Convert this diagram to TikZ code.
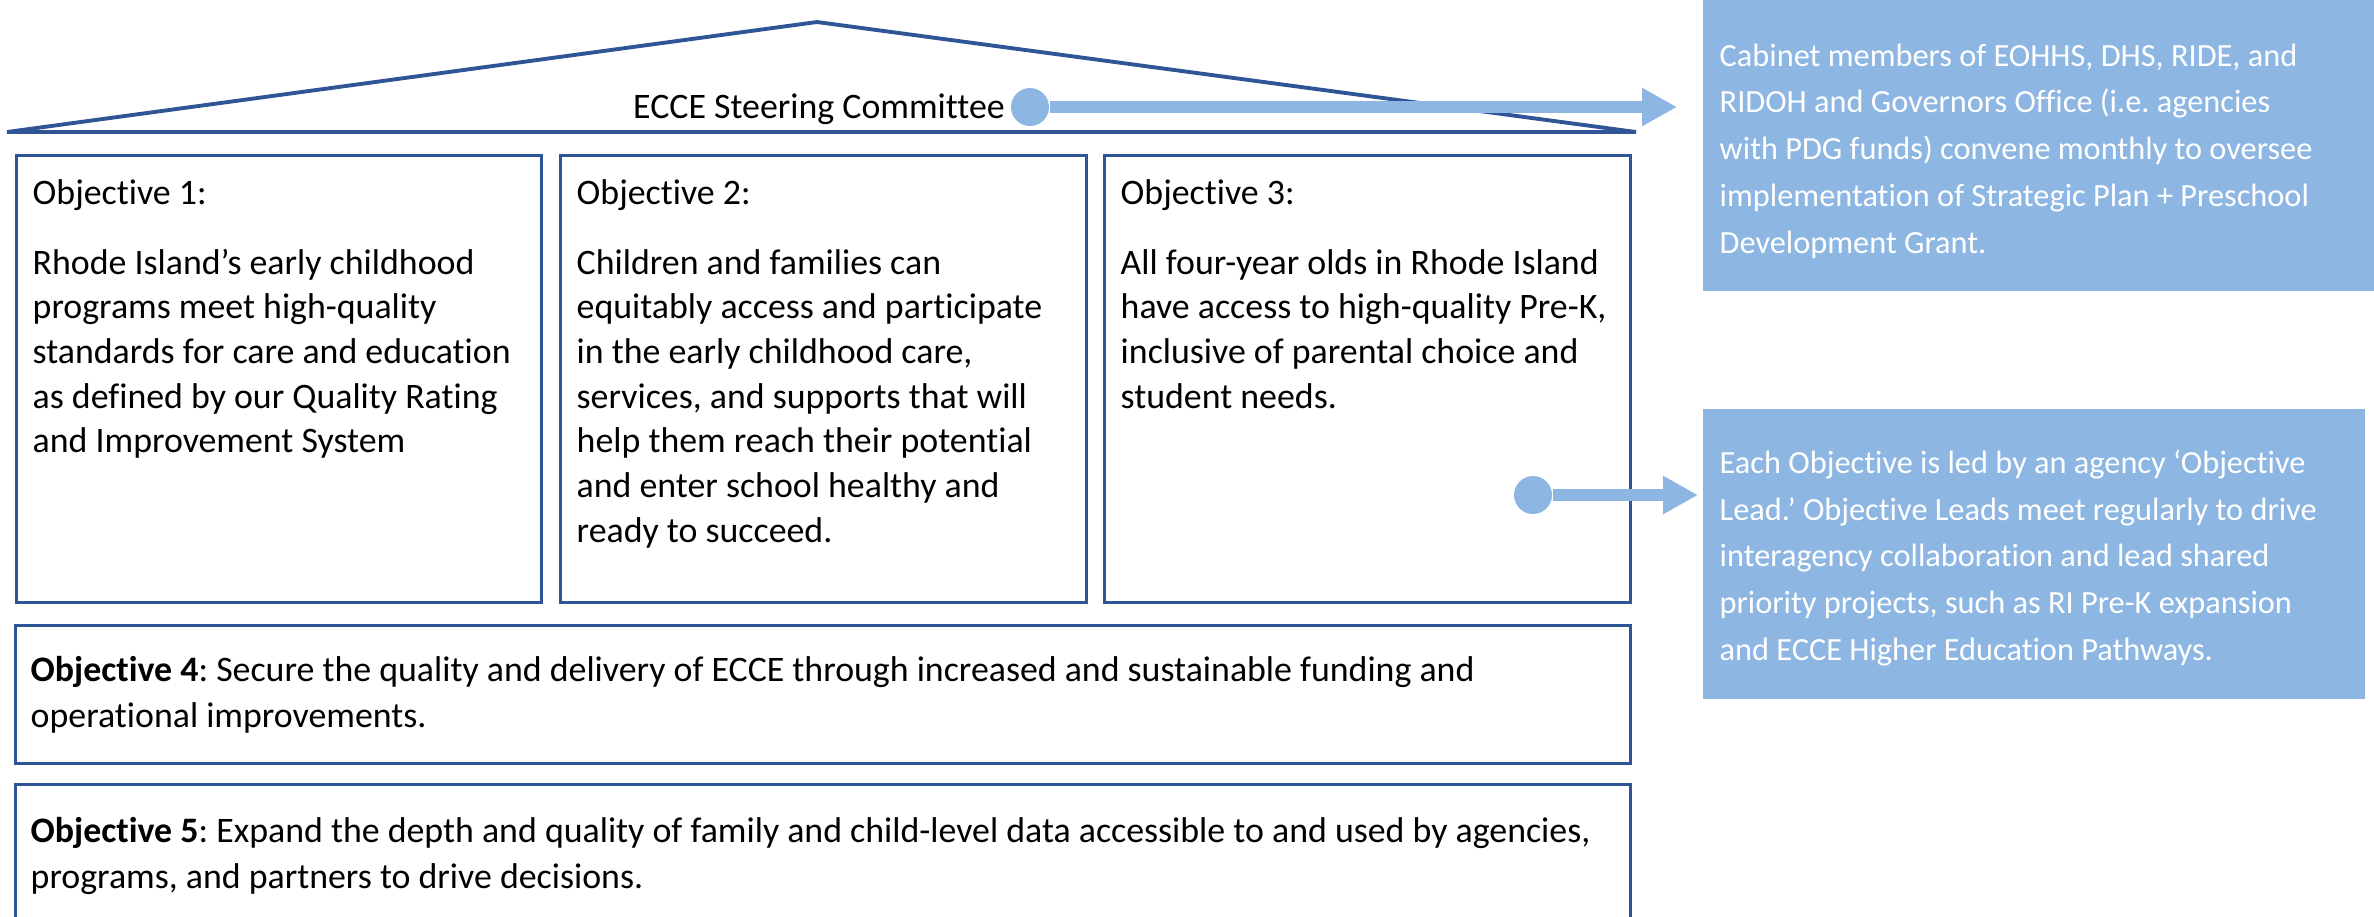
\documentclass[tikz,border=0pt]{standalone}
\usepackage{fontspec}
\setmainfont{Carlito}[Ligatures=NoCommon]
\usepackage{tikz}
\usetikzlibrary{arrows.meta,positioning,calc}
\definecolor{ridkblue}{RGB}{47,85,151}
\definecolor{riltblue}{RGB}{141,183,226}
\frenchspacing
\tikzset{
  objbox/.style={draw=ridkblue,line width=0.9pt,anchor=north west,inner sep=0pt},
  objtext/.style={anchor=north west,inner sep=0pt,align=left,font=\fontsize{10.2}{12.7}\selectfont},
  notebox/.style={fill=riltblue,anchor=north west,inner sep=0pt},
  notetext/.style={text=white,anchor=west,inner sep=0pt,align=left,font=\fontsize{9.2}{13.3}\selectfont},
  leaddot/.style={circle,fill=riltblue,inner sep=0pt,minimum size=3.8mm},
  leadarrow/.style={riltblue,line width=1.2mm,-{Triangle[length=3.5mm,width=3.6mm]}}
}

\begin{document}
\begin{tikzpicture}[x=0.1mm,y=-0.1mm]
    \useasboundingbox (0,0) rectangle (2374,916);
    \clip (0,0) rectangle (2374,916);
    % roof
    \draw[ridkblue,line width=1.1pt] (7,132) -- (817,22) -- (1636,132) -- cycle;
    \node[anchor=base,inner sep=0pt,font=\fontsize{10.2}{12}\selectfont] (steer) at (819,118) {ECCE Steering Committee};
    % objective boxes
    \node[objbox,minimum width=52.5mm,minimum height=44.7mm] (obj1) at (15,154) {};
    \node[objbox,minimum width=52.6mm,minimum height=44.7mm] (obj2) at (559,154) {};
    \node[objbox,minimum width=52.6mm,minimum height=44.7mm] (obj3) at (1103,154) {};
    \node[objbox,minimum width=161.5mm,minimum height=13.8mm] (obj4) at (14,624) {};
    \node[objbox,minimum width=161.5mm,minimum height=16mm] (obj5) at (14,783) {};
    \node[objtext] (obj1txt) at (32,179) {Objective 1:\\[2.5mm]
      Rhode Island’s early childhood\\programs meet high-quality\\standards for care and education\\as defined by our Quality Rating\\and Improvement System};
    \node[objtext] (obj2txt) at (576,179) {Objective 2:\\[2.5mm]
      Children and families can\\equitably access and participate\\in the early childhood care,\\services, and supports that will\\help them reach their potential\\and enter school healthy and\\ready to succeed.};
    \node[objtext] (obj3txt) at (1120,179) {Objective 3:\\[2.5mm]
      All four-year olds in Rhode Island\\have access to high-quality Pre-K,\\inclusive of parental choice and\\student needs.};
    \node[objtext,anchor=west,font=\fontsize{10.2}{13}\selectfont] (obj4txt) at (30,695) {\textbf{Objective 4}: Secure the quality and delivery of ECCE through increased and sustainable funding and\\operational improvements.};
    \node[objtext,anchor=west,font=\fontsize{10.2}{13}\selectfont] (obj5txt) at (30,856) {\textbf{Objective 5}: Expand the depth and quality of family and child-level data accessible to and used by agencies,\\programs, and partners to drive decisions.};
    % notes on the right
    \node[notebox,minimum width=67.5mm,minimum height=29.2mm] (cabinet) at (1702,-2) {};
    \node[notebox,minimum width=66.2mm,minimum height=29mm] (leads) at (1702,408) {};
    \node[notetext] (cabinettxt) at (1719,151) {Cabinet members of EOHHS, DHS, RIDE, and\\RIDOH and Governors Office (i.e. agencies\\with PDG funds) convene monthly to oversee\\implementation of Strategic Plan + Preschool\\Development Grant.};
    \node[notetext] (leadstxt) at (1719,558) {Each Objective is led by an agency ‘Objective\\Lead.’ Objective Leads meet regularly to drive\\interagency collaboration and lead shared\\priority projects, such as RI Pre-K expansion\\and ECCE Higher Education Pathways.};
    % arrows
    \node[leaddot] (steerdot) at (1030,107) {};
    \node[leaddot] (leaddot2) at (1533,495) {};
    \draw[leadarrow,shorten >=2.5mm] (steerdot) -- (steerdot -| cabinet.west);
    \draw[leadarrow,shorten >=0.4mm] (leaddot2) -- (leaddot2 -| leads.west);
\end{tikzpicture}
\end{document}
